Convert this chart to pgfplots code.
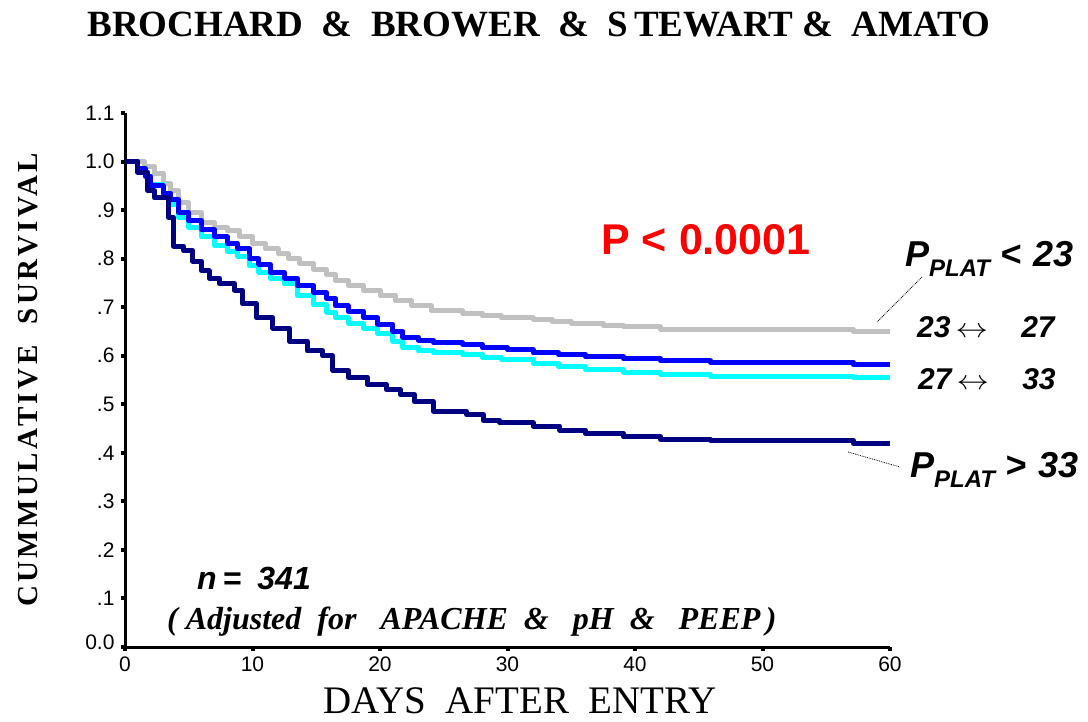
\documentclass[border=0pt]{standalone}
\usepackage{fontspec}
\setmainfont{Liberation Serif}
\newfontfamily\arial{Liberation Sans}
\newfontfamily\spacedserif[LetterSpace=12]{Liberation Serif}
\usepackage{pgfplots}
\pgfplotsset{compat=1.18}
\definecolor{kmgray}{RGB}{192,192,192}
\definecolor{kmblue}{RGB}{0,0,255}
\definecolor{kmcyan}{RGB}{0,255,255}
\definecolor{kmnavy}{RGB}{0,0,128}

\begin{document}
\begin{tikzpicture}[x=1pt,y=1pt]
\useasboundingbox (0,0) rectangle (1088,721);
\begin{axis}[
  at={(125pt,74pt)}, anchor=south west,
  scale only axis, width=765pt, height=534pt,
  xmin=0, xmax=60, ymin=0, ymax=1.1,
  axis lines=left, axis line style={-, line width=3pt},
  xtick={0,10,20,30,40,50,60},
  ytick={0,0.1,0.2,0.3,0.4,0.5,0.6,0.7,0.8,0.9,1.0,1.1},
  yticklabels={\raisebox{9pt}{0.0},.1,.2,.3,.4,.5,.6,.7,.8,.9,1.0,1.1},
  tick align=outside, major tick length=4pt,
  tick style={line width=4pt, black},
  ticklabel style={font=\arial\fontsize{21}{21}\selectfont},
  yticklabel style={xshift=-3pt},
  xticklabel style={yshift=-2pt},
  /pgf/number format/assume math mode=true,
  clip=false,
  every axis plot/.append style={const plot, line width=5pt, line join=round},
]
% P_plat < 23
\addplot[kmgray] coordinates {(0,1.0)(1.5,0.99)(2.3,0.975)(3.0,0.955)(3.6,0.94)(4.2,0.915)(5.0,0.895)(6.0,0.875)(7.0,0.865)(8.0,0.857)(9.0,0.845)(10.0,0.832)(11.0,0.82)(12.0,0.81)(12.8,0.80)(13.7,0.79)(14.8,0.778)(15.8,0.768)(16.5,0.755)(17.5,0.745)(18.7,0.735)(20.0,0.725)(21.2,0.713)(22.5,0.703)(24.0,0.693)(26.5,0.688)(28.0,0.682)(29.5,0.678)(32.0,0.675)(33.5,0.67)(35.0,0.666)(37.5,0.663)(39.1,0.66)(42.0,0.655)(57.1,0.65)(60,0.65)};
% 27 - 33
\addplot[kmcyan] coordinates {(0,1.0)(1.0,0.985)(1.6,0.97)(2.0,0.952)(3.0,0.93)(3.6,0.912)(4.2,0.885)(5.0,0.865)(6.0,0.845)(7.0,0.828)(8.0,0.815)(8.8,0.805)(9.8,0.785)(10.5,0.772)(11.4,0.76)(12.5,0.748)(13.5,0.725)(14.8,0.705)(15.8,0.69)(16.5,0.678)(17.5,0.667)(18.7,0.657)(19.8,0.645)(21.0,0.63)(21.8,0.617)(23.0,0.61)(24.2,0.606)(26.5,0.603)(28.0,0.597)(29.5,0.593)(32.0,0.585)(34.0,0.578)(36.1,0.571)(39.1,0.566)(42.0,0.562)(45.9,0.558)(57.1,0.555)(60,0.555)};
% 23 - 27
\addplot[kmblue] coordinates {(0,1.0)(1.0,0.985)(1.6,0.97)(2.0,0.95)(3.0,0.935)(3.6,0.922)(4.2,0.895)(5.0,0.878)(6.0,0.86)(7.0,0.845)(8.0,0.832)(8.8,0.82)(9.8,0.8)(10.5,0.788)(11.4,0.772)(12.5,0.76)(13.5,0.745)(14.8,0.73)(15.8,0.718)(16.5,0.703)(17.5,0.692)(18.7,0.678)(19.8,0.665)(21.0,0.65)(21.8,0.638)(23.0,0.632)(24.2,0.627)(26.5,0.624)(28.0,0.617)(30.0,0.612)(32.0,0.606)(34.0,0.602)(36.1,0.598)(39.1,0.594)(42.0,0.59)(45.9,0.587)(57.1,0.582)(60,0.582)};
% P_plat > 33
\addplot[kmnavy] coordinates {(0,1.0)(1.0,0.978)(1.8,0.94)(2.3,0.925)(3.4,0.885)(3.8,0.826)(4.6,0.816)(5.3,0.795)(6.0,0.775)(6.6,0.76)(7.4,0.748)(8.6,0.735)(9.2,0.707)(10.3,0.678)(11.6,0.657)(12.9,0.63)(14.3,0.61)(15.5,0.6)(16.3,0.57)(17.5,0.556)(19.0,0.541)(20.5,0.53)(21.6,0.52)(22.7,0.505)(24.2,0.486)(26.8,0.479)(28.1,0.467)(29.4,0.462)(32.0,0.455)(34.1,0.447)(36.1,0.44)(39.1,0.433)(42.0,0.428)(45.9,0.426)(57.1,0.42)(60,0.42)};
\end{axis}

% titles
\node[anchor=base, font=\bfseries\fontsize{37}{37}\selectfont] at (539,684)
  {BROCHARD\ \ \&\ \ BROWER\ \ \&\ \ S\,TEWART\ \&\ \ AMATO};
\node[rotate=90, anchor=center, font=\spacedserif\bfseries\fontsize{29}{29}\selectfont] at (28,341)
  {CUMMULATIVE\ \ SURVIVAL};
\node[anchor=base, inner sep=0pt, font=\fontsize{39}{39}\selectfont] at (520,8)
  {DAYS\ \ AFTER\ \ ENTRY};

% annotations
\node[anchor=base, text=red, font=\arial\bfseries\fontsize{43}{43}\selectfont] at (706,466) {P < 0.0001};
\node[anchor=base west, inner sep=0pt, font=\arial\bfseries\itshape\fontsize{36}{36}\selectfont] at (905,454)
  {P\raisebox{-10pt}{\fontsize{24}{24}\selectfont PLAT}\hspace{10pt}<\hspace{12pt}23};
\node[anchor=base west, inner sep=0pt, font=\arial\bfseries\itshape\fontsize{30}{30}\selectfont] at (917,383)
  {23\,\scalebox{1.3}[1.1]{$\leftrightarrow$}\ \ \ \ 27};
\node[anchor=base west, inner sep=0pt, font=\arial\bfseries\itshape\fontsize{30}{30}\selectfont] at (918,331)
  {27\,\scalebox{1.3}[1.1]{$\leftrightarrow$}\ \ \ \ 33};
\node[anchor=base west, inner sep=0pt, font=\arial\bfseries\itshape\fontsize{36}{36}\selectfont] at (910,243)
  {P\raisebox{-10pt}{\fontsize{24}{24}\selectfont PLAT}\hspace{10pt}>\hspace{12pt}33};
\draw[densely dotted, line width=0.8pt] (922,444) -- (877,399);
\draw[densely dotted, line width=0.8pt] (848,269) -- (900,254);
\node[anchor=base west, inner sep=0pt, font=\arial\bfseries\itshape\fontsize{32}{32}\selectfont] at (197,131)
  {n\hspace{6pt}=\hspace{16pt}341};
\node[anchor=base west, inner sep=0pt, font=\bfseries\itshape\fontsize{32}{32}\selectfont] at (167,91)
  {(\ Adjusted\ \ for\ \ \ APACHE\ \ \&\ \ \ pH\ \ \&\ \ \ PEEP\,)};
\end{tikzpicture}
\end{document}
